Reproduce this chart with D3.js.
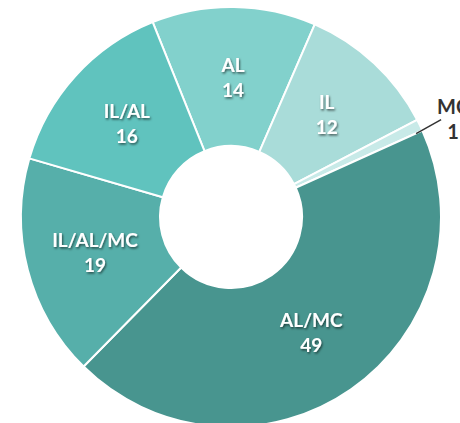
<!DOCTYPE html>
<html><head><meta charset="utf-8">
<script src="https://cdn.jsdelivr.net/npm/d3@7"></script>
<style>body{margin:0;background:#fff}svg{display:block}</style>
</head><body>
<svg id="c" width="460" height="423"></svg>
<script>
const categories = ["AL", "IL", "MC", "AL/MC", "IL/AL/MC", "IL/AL"];
const values = [14, 12, 1, 49, 19, 16];
const colors = ["#82d1cc", "#a9dcd9", "#c8eae8", "#48958f", "#56afaa", "#60c3be"];

const svg = d3.select("#c");
const cx = 231, cy = 217, R = 210, r0 = 71;
const defs = svg.append("defs");
const f = defs.append("filter").attr("id","sh").attr("x","-20%").attr("y","-20%").attr("width","140%").attr("height","140%");
f.append("feDropShadow").attr("dx",1).attr("dy",1.5).attr("stdDeviation",1.2).attr("flood-color","#000").attr("flood-opacity",0.6);

const data = categories.map((c,i)=>({name:c, value:values[i], color:colors[i]}));
const startA = -21.9*Math.PI/180;
const pie = d3.pie().value(d=>d.value).sort(null).startAngle(startA).endAngle(startA+2*Math.PI);
const arcs = pie(data);
const arc = d3.arc().innerRadius(r0).outerRadius(R);
const g = svg.append("g").attr("transform",`translate(${cx},${cy})`);
g.selectAll("path").data(arcs).join("path")
  .attr("d",arc).attr("fill",d=>d.data.color)
  .attr("stroke","#fff").attr("stroke-width",2);

const font = "'Source Sans Pro','Lato','Noto Sans',sans-serif";
arcs.forEach(a=>{
  if (a.data.value < 3) {
    const mid = (a.startAngle+a.endAngle)/2 + 0.03;
    const p0 = [Math.sin(mid)*(R-7), -Math.cos(mid)*(R-7)];
    const p1 = [p0[0]+25, p0[1]-14];
    g.append("line").attr("x1",p0[0]).attr("y1",p0[1]).attr("x2",p1[0]).attr("y2",p1[1])
      .attr("stroke","#333").attr("stroke-width",1.5);
    const tx = p1[0]+12;
    const t = g.append("text").attr("text-anchor","middle")
      .attr("font-family",font).attr("font-weight","bold").attr("font-size",20).attr("fill","#333");
    t.append("tspan").attr("x",tx).attr("y",p1[1]-6).text(a.data.name);
    t.append("tspan").attr("x",tx).attr("y",p1[1]+19).text(a.data.value);
  } else {
    const [x,y] = arc.centroid(a);
    const t = g.append("text").attr("text-anchor","middle").attr("filter","url(#sh)")
      .attr("font-family",font).attr("font-weight","bold").attr("font-size",19).attr("fill","#fff");
    t.append("tspan").attr("x",x).attr("y",y-5).text(a.data.name);
    t.append("tspan").attr("x",x).attr("y",y+20).text(a.data.value);
  }
});
</script>
</body></html>
